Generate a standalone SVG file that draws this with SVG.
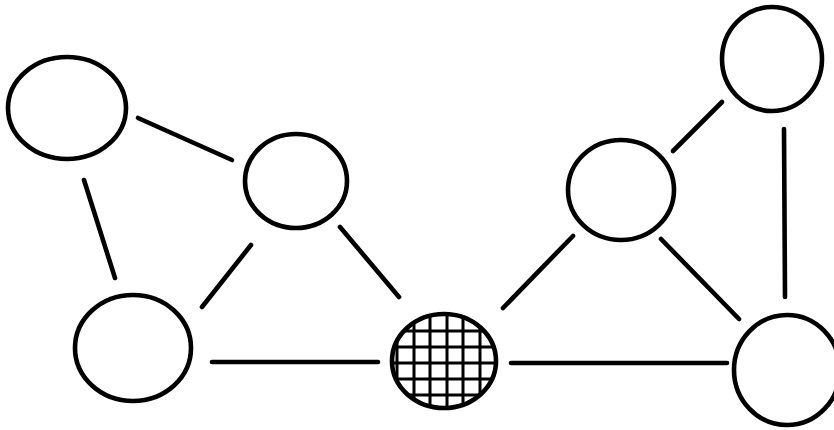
<svg xmlns="http://www.w3.org/2000/svg" width="834" height="430" viewBox="0 0 834 430">
<style>
.node{fill:#fff;stroke:#000;stroke-width:4.6}
.edge{stroke:#000;stroke-width:4.6;stroke-linecap:round}
.grid{stroke:#000;stroke-width:3}
</style>
<defs>
<clipPath id="hc"><ellipse cx="444" cy="361" rx="52" ry="47"/></clipPath>
</defs>
<rect width="834" height="430" fill="#fff"/>
<g id="connectors">
<line class="edge" x1="138" y1="118" x2="232" y2="160"/>
<line class="edge" x1="84" y1="180" x2="115" y2="278"/>
<line class="edge" x1="251" y1="245" x2="202" y2="307"/>
<line class="edge" x1="340" y1="227" x2="399" y2="297"/>
<line class="edge" x1="212" y1="362" x2="378" y2="362"/>
<line class="edge" x1="503" y1="308" x2="573" y2="236"/>
<line class="edge" x1="511" y1="363" x2="727" y2="363"/>
<line class="edge" x1="661" y1="239" x2="739" y2="319"/>
<line class="edge" x1="673" y1="151" x2="722" y2="102"/>
<line class="edge" x1="784" y1="129" x2="785" y2="297"/>
</g>
<g id="n1"><ellipse class="node" cx="67" cy="108" rx="59" ry="51"/></g>
<g id="n2"><ellipse class="node" cx="296" cy="181" rx="51" ry="47"/></g>
<g id="n3"><ellipse class="node" cx="133" cy="348" rx="58" ry="53"/></g>
<g id="n4">
<ellipse cx="444" cy="361" rx="52" ry="47" fill="#fff"/>
<g clip-path="url(#hc)">
<line class="grid" x1="397" y1="300" x2="397" y2="420"/>
<line class="grid" x1="414" y1="300" x2="414" y2="420"/>
<line class="grid" x1="430" y1="300" x2="430" y2="420"/>
<line class="grid" x1="447" y1="300" x2="447" y2="420"/>
<line class="grid" x1="463" y1="300" x2="463" y2="420"/>
<line class="grid" x1="480" y1="300" x2="480" y2="420"/>
<line class="grid" x1="380" y1="331" x2="510" y2="331"/>
<line class="grid" x1="380" y1="347" x2="510" y2="347"/>
<line class="grid" x1="380" y1="363" x2="510" y2="363"/>
<line class="grid" x1="380" y1="379" x2="510" y2="379"/>
<line class="grid" x1="380" y1="395" x2="510" y2="395"/>
</g>
<ellipse cx="444" cy="361" rx="52" ry="47" fill="none" stroke="#000" stroke-width="4.6"/>
</g>
<g id="n5"><ellipse class="node" cx="621" cy="190" rx="53" ry="50"/></g>
<g id="n6"><ellipse class="node" cx="772" cy="59" rx="50" ry="52"/></g>
<g id="n7"><ellipse class="node" cx="787" cy="370" rx="53" ry="55"/></g>
</svg>
